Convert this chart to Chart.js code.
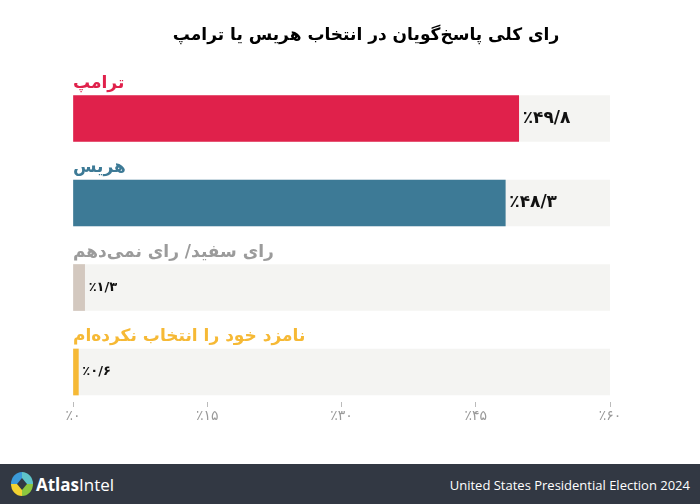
<!DOCTYPE html>
<html>
<head>
<meta charset="utf-8">
<script src="https://cdn.jsdelivr.net/npm/chart.js@4/dist/chart.umd.min.js"></script>
<style>
  body { margin: 0; background: #fff; width: 700px; height: 504px; overflow: hidden; }
  #wrap { position: relative; width: 700px; height: 464px; }
  #footer { height: 40px; background: #323843; position: relative; font-family: "Open Sans", sans-serif; color: #fff; }
  #footer .logo { position: absolute; left: 10px; top: 7px; }
  #footer .brand { position: absolute; left: 36px; top: 9px; font-size: 17px; }
  #footer .brand b { font-weight: 700; }
  #footer .right { position: absolute; right: 10px; top: 12px; font-size: 13px; }
</style>
</head>
<body>
<div id="wrap"><canvas id="grafico" width="700" height="464"></canvas></div>
<div id="footer">
  <svg class="logo" width="24" height="26" viewBox="0 0 24 26">
    <path d="M12 1 A11 12 0 0 0 1 13 L7 13 L12 7 Z" fill="#3b9ad9"/>
    <path d="M12 1 A11 12 0 0 1 23 13 L17 13 L12 7 Z" fill="#5fc4c9"/>
    <path d="M23 13 A11 12 0 0 1 12 25 L12 19 L17 13 Z" fill="#8cc63f"/>
    <path d="M1 13 A11 12 0 0 0 12 25 L12 19 L7 13 Z" fill="#f2d231"/>
  </svg>
  <div class="brand"><b>Atlas</b>Intel</div>
  <div class="right">United States Presidential Election 2024</div>
</div>
<script>
var titulo = 'رای کلی پاسخ‌گویان در انتخاب هریس یا ترامپ';
var nomes = ['ترامپ', 'هریس', 'رای سفید/ رای نمی‌دهم', 'نامزد خود را انتخاب نکرده‌ام'];
var valores = [49.8, 48.3, 1.3, 0.6];
var rotulos = ['٪۴۹/۸', '٪۴۸/۳', '٪۱/۳', '٪۰/۶'];
var ticksX = [0, 15, 30, 45, 60];
var ticksTexto = ['٪۰', '٪۱۵', '٪۳۰', '٪۴۵', '٪۶۰'];
var maximo = 60;

var coresBarra = ['#e0214b', '#3d7a96', '#d3c8bf', '#f6b935'];
var coresNome = ['#e0214b', '#3d7a96', '#9b9b9b', '#f6b935'];
var fonte = '"DejaVu Sans", sans-serif';

var pontos = valores.map(function(v, i) { return { x: v, y: i }; });
var fundo = valores.map(function(v, i) { return { x: maximo, y: i }; });

var textos = {
  id: 'textos',
  afterDatasetsDraw: function(chart) {
    var ctx = chart.ctx;
    var sx = chart.scales.x;
    ctx.save();
    // titulo
    ctx.fillStyle = '#000';
    ctx.font = 'bold 17px ' + fonte;
    ctx.textAlign = 'center';
    ctx.textBaseline = 'middle';
    ctx.direction = 'rtl';
    ctx.fillText(titulo, 366, 36);
    var meta = chart.getDatasetMeta(0);
    meta.data.forEach(function(bar, i) {
      var topo = bar.y - bar.height / 2;
      ctx.direction = 'rtl';
      ctx.textAlign = 'left';
      ctx.textBaseline = 'alphabetic';
      ctx.font = 'bold 17px ' + fonte;
      ctx.fillStyle = coresNome[i];
      ctx.fillText(nomes[i], sx.getPixelForValue(0), topo - 8);
      ctx.direction = 'ltr';
      ctx.textBaseline = 'middle';
      ctx.fillStyle = '#111';
      ctx.font = 'bold ' + (valores[i] > 10 ? 17 : 13) + 'px ' + fonte;
      ctx.fillText(rotulos[i], bar.x + 4, bar.y);
    });
    ctx.restore();
  }
};

new Chart(document.getElementById('grafico'), {
  type: 'bar',
  data: {
    datasets: [{
      data: pontos,
      backgroundColor: coresBarra,
      barThickness: 46,
      grouped: false,
      order: 1
    }, {
      data: fundo,
      backgroundColor: '#f4f4f2',
      barThickness: 46,
      grouped: false,
      order: 2
    }]
  },
  options: {
    indexAxis: 'y',
    responsive: false,
    animation: false,
    layout: { padding: { left: 73, right: 90, top: 62, bottom: 30 } },
    plugins: { legend: { display: false }, tooltip: { enabled: false } },
    scales: {
      y: { type: 'linear', reverse: true, offset: false, min: -0.669, max: 3.355, display: false },
      x: {
        min: 0, max: maximo,
        afterBuildTicks: function(axis) { axis.ticks = ticksX.map(function(v) { return { value: v }; }); },
        afterFit: function(axis) { axis.height = 32; },
        border: { display: false },
        grid: { drawOnChartArea: false, drawTicks: true, tickLength: 5, color: '#bbb' },
        ticks: {
          padding: 1,
          color: '#999',
          font: { family: fonte, size: 14 },
          callback: function(v) { return ticksTexto[ticksX.indexOf(v)]; }
        }
      }
    }
  },
  plugins: [textos]
});
</script>
</body>
</html>
